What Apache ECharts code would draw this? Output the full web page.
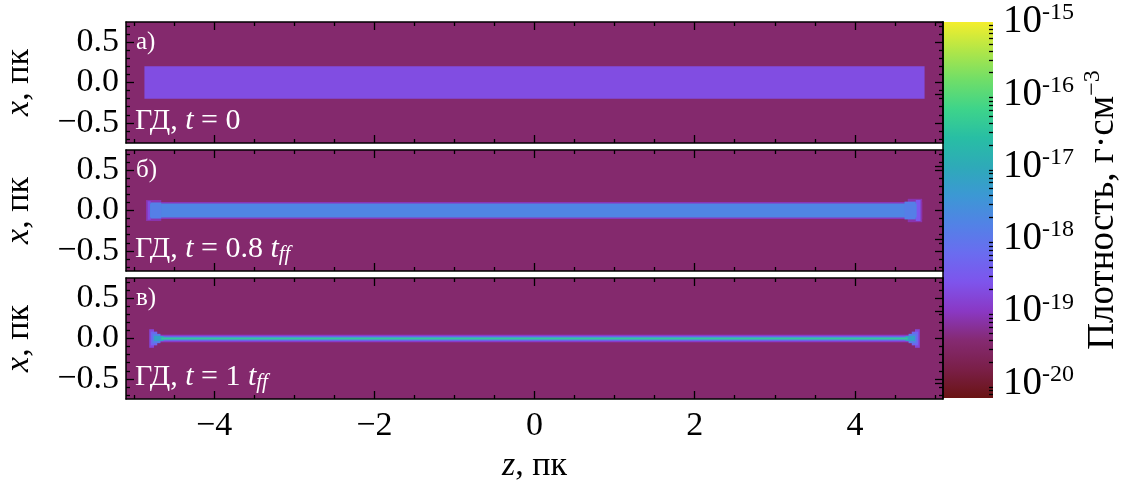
<!DOCTYPE html>
<html>
<head>
<meta charset="utf-8">
<script src="https://cdn.jsdelivr.net/npm/echarts@6/dist/echarts.min.js"></script>
<style>
html, body { margin: 0; background: #fff; }
#chart { width: 1123px; height: 488px; }
</style>
</head>
<body>
<div id="chart"></div>
<script>
// density maps, log10(rho / g cm^-3)
// each cell: [z0, z1, x0, x1, logRho], in pc
var cellsA = [
	[-5.1, 5.1, -0.75, 0.75, -19.45],
	[-4.87, 4.87, -0.2, 0.2, -18.7]
];
var cellsB = [
	[-5.1, 5.1, -0.75, 0.75, -19.45],
	[-4.85, 4.84, -0.105, 0.105, -19.05],
	[-4.85, -4.66, -0.13, 0.13, -19.1],
	[4.66, 4.84, -0.145, 0.145, -19.1],
	[-4.83, -4.79, -0.115, 0.115, -18.7],
	[4.76, 4.82, -0.13, 0.13, -18.55],
	[-4.8, 4.77, -0.088, 0.088, -17.75],
	[-4.79, -4.66, -0.1, 0.1, -17.85],
	[4.62, 4.76, -0.11, 0.11, -17.85]
];
var cellsC = [
	[-5.1, 5.1, -0.75, 0.75, -19.45],
	[-4.72, 4.72, -0.045, 0.045, -18.95],
	[-4.72, 4.72, -0.028, 0.028, -18.0],
	[-4.81, -4.75, -0.115, 0.115, -18.8],
	[-4.79, -4.71, -0.085, 0.085, -18.3],
	[-4.77, -4.67, -0.058, 0.058, -17.85],
	[-4.75, -4.63, -0.032, 0.032, -17.2],
	[4.75, 4.81, -0.115, 0.115, -18.8],
	[4.71, 4.79, -0.085, 0.085, -18.3],
	[4.67, 4.77, -0.058, 0.058, -17.85],
	[4.63, 4.75, -0.032, 0.032, -17.2],
	[-4.66, 4.66, -0.012, 0.012, -16.4]
];
var panels = [cellsA, cellsB, cellsC];
var panelLetters = ['а)', 'б)', 'в)'];
var panelTimes = [
	'{r|ГД, }{i|t}{r| = 0}',
	'{r|ГД, }{i|t}{r| = 0.8 }{i|t}{s|ff}',
	'{r|ГД, }{i|t}{r| = 1 }{i|t}{s|ff}'
];

var zMajor = [-4, -2, 0, 2, 4];
var zMinor = [-5, -4.5, -3.5, -3, -2.5, -1.5, -1, -0.5, 0.5, 1, 1.5, 2.5, 3, 3.5, 4.5, 5];
var xMajor = [-0.5, 0, 0.5];
var xMinor = [-0.7, -0.6, -0.4, -0.3, -0.2, -0.1, 0.1, 0.2, 0.3, 0.4, 0.6, 0.7];
var cbarMajor = [-20, -19, -18, -17, -16, -15];
var cbarMin = -20.2, cbarMax = -15;

// colour map from -20.2 to -15, evenly spaced
var cmap = ['#6a1414', '#7a1f48', '#852a72', '#8a38c4', '#7e54ec', '#6a6cf0', '#5282e6',
	'#3c98d4', '#2eaab8', '#28bea4', '#3ed48a', '#70de68', '#b0e648', '#f4ee2c'];

var serif = 'Liberation Serif';
var panelTop = [22, 150, 278];
var panelH = 121;
var bigFont = 34;

var cbarMinor = [];
for (var n = -21; n < -15; n++) {
	for (var k = 2; k < 10; k++) {
		var v = n + Math.log10(k);
		if (v > cbarMin && v < cbarMax) cbarMinor.push(v);
	}
}

function fmt(v) {
	return (v < 0 ? '\u2212' : '') + Math.abs(v);
}

var grids = [], xAxes = [], yAxes = [], series = [], graphics = [];
var tickStyle = { color: '#000', width: 1.3 };
var nameStyle = { fontFamily: serif, fontSize: bigFont, color: '#000',
	rich: { i: { fontFamily: serif, fontStyle: 'italic', fontSize: bigFont, color: '#000' } } };

panels.forEach(function (cells, i) {
	grids.push({ left: 126, right: 180, top: panelTop[i], height: panelH,
		containLabel: false, outerBoundsMode: 'none' });
	['bottom', 'top'].forEach(function (pos) {
		var isLabel = pos === 'bottom' && i === 2;
		xAxes.push({
			gridIndex: i, type: 'value', position: pos, min: -5.1, max: 5.1, z: 5,
			axisLine: { show: true, onZero: false, lineStyle: { color: '#000', width: 1.5 } },
			axisTick: { inside: true, length: 8, lineStyle: tickStyle, customValues: zMajor },
			axisLabel: { show: isLabel, customValues: zMajor, formatter: fmt, margin: 10,
				fontFamily: serif, fontSize: bigFont, color: '#000' },
			splitLine: { show: false },
			name: isLabel ? '{i|z}, пк' : '', nameLocation: 'middle', nameGap: 50,
			nameTextStyle: nameStyle
		});
		xAxes.push({
			gridIndex: i, type: 'value', position: pos, min: -5.1, max: 5.1, z: 5,
			axisLine: { show: false, onZero: false },
			axisTick: { inside: true, length: 4, lineStyle: tickStyle, customValues: zMinor },
			axisLabel: { show: false },
			splitLine: { show: false }
		});
	});
	['left', 'right'].forEach(function (pos) {
		var isLabel = pos === 'left';
		yAxes.push({
			gridIndex: i, type: 'value', position: pos, min: -0.75, max: 0.75, z: 5,
			axisLine: { show: true, onZero: false, lineStyle: { color: '#000', width: 1.5 } },
			axisTick: { inside: true, length: 8, lineStyle: tickStyle, customValues: xMajor },
			axisLabel: { show: isLabel, customValues: xMajor, margin: 7,
				formatter: function (v) { return (v < 0 ? '\u2212' : '') + Math.abs(v).toFixed(1); },
				fontFamily: serif, fontSize: bigFont, color: '#000' },
			splitLine: { show: false },
			name: isLabel ? '{i|x}, пк' : '', nameLocation: 'middle', nameGap: 90, nameRotate: 90,
			nameTextStyle: nameStyle
		});
		yAxes.push({
			gridIndex: i, type: 'value', position: pos, min: -0.75, max: 0.75, z: 5,
			axisLine: { show: false, onZero: false },
			axisTick: { inside: true, length: 4, lineStyle: tickStyle, customValues: xMinor },
			axisLabel: { show: false },
			splitLine: { show: false }
		});
	});
	series.push({
		type: 'custom',
		xAxisIndex: i * 4,
		yAxisIndex: i * 4,
		z: 1,
		clip: true,
		encode: { x: [0, 1], y: [2, 3] },
		data: cells,
		renderItem: function (params, api) {
			var p0 = api.coord([api.value(0), api.value(3)]);
			var p1 = api.coord([api.value(1), api.value(2)]);
			return {
				type: 'rect',
				shape: { x: p0[0], y: p0[1], width: p1[0] - p0[0], height: p1[1] - p0[1] },
				style: { fill: api.visual('color') }
			};
		}
	});
	graphics.push({
		type: 'text', left: 136, top: panelTop[i] + 8, z: 100,
		style: { text: panelLetters[i], fill: '#fff', fontFamily: serif, fontSize: 25 }
	});
	graphics.push({
		type: 'text', left: 135, top: panelTop[i] + 84, z: 100,
		style: {
			text: panelTimes[i],
			rich: {
				r: { fill: '#fff', fontFamily: serif, fontSize: 30, lineHeight: 32 },
				i: { fill: '#fff', fontFamily: serif, fontStyle: 'italic', fontSize: 30, lineHeight: 32 },
				s: { fill: '#fff', fontFamily: serif, fontStyle: 'italic', fontSize: 21, lineHeight: 20,
					verticalAlign: 'bottom' }
			}
		}
	});
});

// colour bar
grids.push({ left: 943, width: 50, top: 22, height: 376, containLabel: false, outerBoundsMode: 'none' });
xAxes.push({ gridIndex: 3, type: 'value', min: 0, max: 1, show: false });
yAxes.push({
	gridIndex: 3, type: 'value', position: 'right', min: cbarMin, max: cbarMax, z: 5,
	axisLine: { show: true, lineStyle: { color: '#000', width: 1.5 } },
	axisTick: { inside: true, length: 8, lineStyle: tickStyle, customValues: cbarMajor },
	axisLabel: { customValues: cbarMajor, margin: 10,
		formatter: function (v) { return '{b|10}{e|' + v + '}'; },
		rich: {
			b: { fontFamily: serif, fontSize: 39, color: '#000', lineHeight: 42 },
			e: { fontFamily: serif, fontSize: 24, color: '#000', lineHeight: 24, verticalAlign: 'top' }
		}
	},
	splitLine: { show: false },
	name: '{n|Плотность, г·см}{e|\u22123}', nameLocation: 'middle', nameRotate: 90, nameGap: 88,
	nameTextStyle: {
		rich: {
			n: { fontFamily: serif, fontSize: 37, color: '#000', lineHeight: 44 },
			e: { fontFamily: serif, fontSize: 24, color: '#000', lineHeight: 24, verticalAlign: 'top' }
		}
	}
});
yAxes.push({
	gridIndex: 3, type: 'value', position: 'right', min: cbarMin, max: cbarMax, z: 5,
	axisLine: { show: false },
	axisTick: { inside: true, length: 4, lineStyle: tickStyle, customValues: cbarMinor },
	axisLabel: { show: false },
	splitLine: { show: false }
});
var stops = cmap.map(function (c, j) { return { offset: j / (cmap.length - 1), color: c }; });
series.push({
	type: 'custom',
	xAxisIndex: 12,
	yAxisIndex: 12,
	z: 1,
	encode: { x: [0, 1], y: [2, 3] },
	data: [[0, 1, cbarMin, cbarMax]],
	renderItem: function (params, api) {
		var p0 = api.coord([api.value(0), api.value(3)]);
		var p1 = api.coord([api.value(1), api.value(2)]);
		return {
			type: 'rect',
			shape: { x: p0[0], y: p0[1], width: p1[0] - p0[0], height: p1[1] - p0[1] },
			style: { fill: new echarts.graphic.LinearGradient(0, 1, 0, 0, stops) }
		};
	}
});

var myChart = echarts.init(document.getElementById('chart'));
var option = {
	animation: false,
	textStyle: { fontFamily: serif },
	grid: grids,
	xAxis: xAxes,
	yAxis: yAxes,
	visualMap: {
		type: 'continuous', show: false, seriesIndex: [0, 1, 2], dimension: 4,
		min: cbarMin, max: cbarMax, inRange: { color: cmap }
	},
	graphic: graphics,
	series: series
};
myChart.setOption(option);
</script>
</body>
</html>
